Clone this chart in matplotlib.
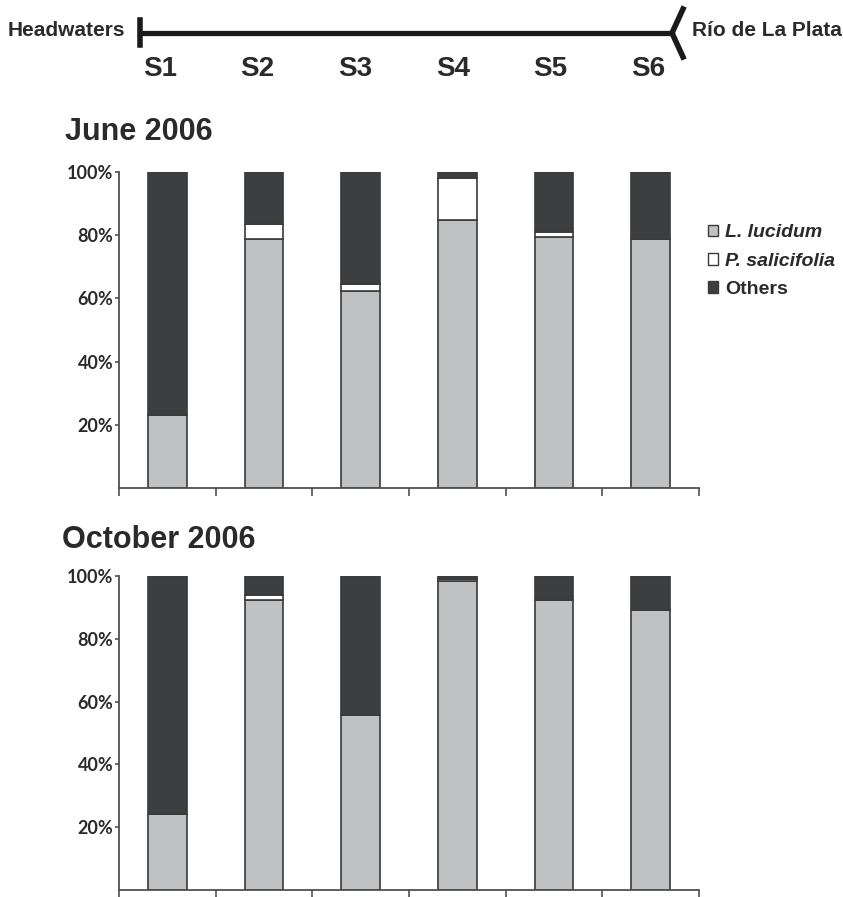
import matplotlib.pyplot as plt
from matplotlib.lines import Line2D
from matplotlib.patches import Patch

sites = ['S1', 'S2', 'S3', 'S4', 'S5', 'S6']
species = ['L. lucidum', 'P. salicifolia', 'Others']

# Percent composition per site (June 2006)
june_lucidum = [23.1, 78.8, 62.3, 84.8, 79.3, 78.9]
june_salicifolia = [0.0, 4.6, 2.3, 13.2, 1.8, 0.0]
june_others = [76.9, 16.6, 35.4, 2.0, 18.9, 21.1]

# Percent composition per site (October 2006)
oct_lucidum = [24.1, 92.5, 55.7, 98.3, 92.3, 89.3]
oct_salicifolia = [0.0, 1.4, 0.0, 0.7, 0.0, 0.0]
oct_others = [75.9, 6.1, 44.3, 1.0, 7.7, 10.7]

yticks = [20, 40, 60, 80, 100]
ytick_labels = ['20%', '40%', '60%', '80%', '100%']

colors = ['#c0c1c3', '#ffffff', '#3d3e40']
edge = '#3a3a3a'
axis_col = '#505050'
text_col = '#2a2a2a'

W, H = 843, 897
fig = plt.figure(figsize=(W / 100, H / 100), dpi=100)


def px_axes(left, top, right, bottom):
    return fig.add_axes([left / W, 1 - bottom / H, (right - left) / W, (bottom - top) / H])


def stacked(ax, parts):
    x = [i + 0.5 for i in range(len(sites))]
    base = [0.0] * len(sites)
    bars = []
    for vals, col in zip(parts, colors):
        b = ax.bar(x, vals, bottom=base, width=0.4, color=col,
                   edgecolor=edge, linewidth=1.2)
        bars.append(b)
        base = [a + v for a, v in zip(base, vals)]
    ax.set_xlim(0, 6)
    ax.set_ylim(0, 100)
    ax.set_xticks(range(7))
    ax.set_xticklabels([])
    ax.set_yticks(yticks)
    ax.set_yticklabels(ytick_labels, fontfamily='Lato', fontweight='bold',
                       fontsize=13, color=text_col)
    ax.tick_params(axis='y', length=3, width=1.2, color=axis_col, pad=1)
    ax.tick_params(axis='x', length=6, width=1.2, color=axis_col)
    for s in ['top', 'right']:
        ax.spines[s].set_visible(False)
    for s in ['left', 'bottom']:
        ax.spines[s].set_color(axis_col)
        ax.spines[s].set_linewidth(1.3)
    return bars


ax1 = px_axes(119, 172, 699, 488)
stacked(ax1, [june_lucidum, june_salicifolia, june_others])
ax2 = px_axes(119, 576, 699, 890)
stacked(ax2, [oct_lucidum, oct_salicifolia, oct_others])

fig.text(65 / W, 1 - 132 / H, 'June 2006', fontfamily='Liberation Sans',
         fontweight='bold', fontsize=22, color=text_col, va='center')
fig.text(62 / W, 1 - 540 / H, 'October 2006', fontfamily='Liberation Sans',
         fontweight='bold', fontsize=22, color=text_col, va='center')

# legend beside the June panel
handles = [Patch(facecolor=c, edgecolor=edge, linewidth=1.0) for c in colors]
leg = ax1.legend(handles, species, loc='upper left', bbox_to_anchor=(0.985, 0.89),
                 frameon=False, handlelength=0.55, handleheight=0.55,
                 handletextpad=0.35, labelspacing=0.58,
                 prop={'family': 'Liberation Sans', 'weight': 'bold', 'size': 14})
for t in leg.get_texts():
    t.set_color(text_col)
for t in leg.get_texts()[:2]:
    t.set_style('italic')

# river transect header: headwaters to Rio de La Plata
hdr = fig.add_axes([0, 0, 1, 1], zorder=-1)
hdr.set_xlim(0, W)
hdr.set_ylim(H, 0)
hdr.axis('off')
hdr.add_line(Line2D([140, 672], [33, 33], color='#1a1a1a', lw=3.8))
hdr.add_line(Line2D([139.5, 139.5], [20, 45], color='#1a1a1a', lw=4.0))
hdr.add_line(Line2D([683, 672, 683], [9, 33, 57], color='#1a1a1a', lw=4.0,
                    solid_joinstyle='miter'))
hdr.text(8, 31, 'Headwaters', fontfamily='Liberation Sans', fontweight='bold',
         fontsize=15, color=text_col, va='center', ha='left')
hdr.text(692, 31, 'Río de La Plata', fontfamily='Liberation Sans', fontweight='bold',
         fontsize=15, color=text_col, va='center', ha='left')
for i, s in enumerate(sites):
    hdr.text(160 + 97.6 * i, 69, s, fontfamily='Liberation Sans', fontweight='bold',
             fontsize=20, color=text_col, va='center', ha='center')

fig.savefig('out.png', dpi=100)
